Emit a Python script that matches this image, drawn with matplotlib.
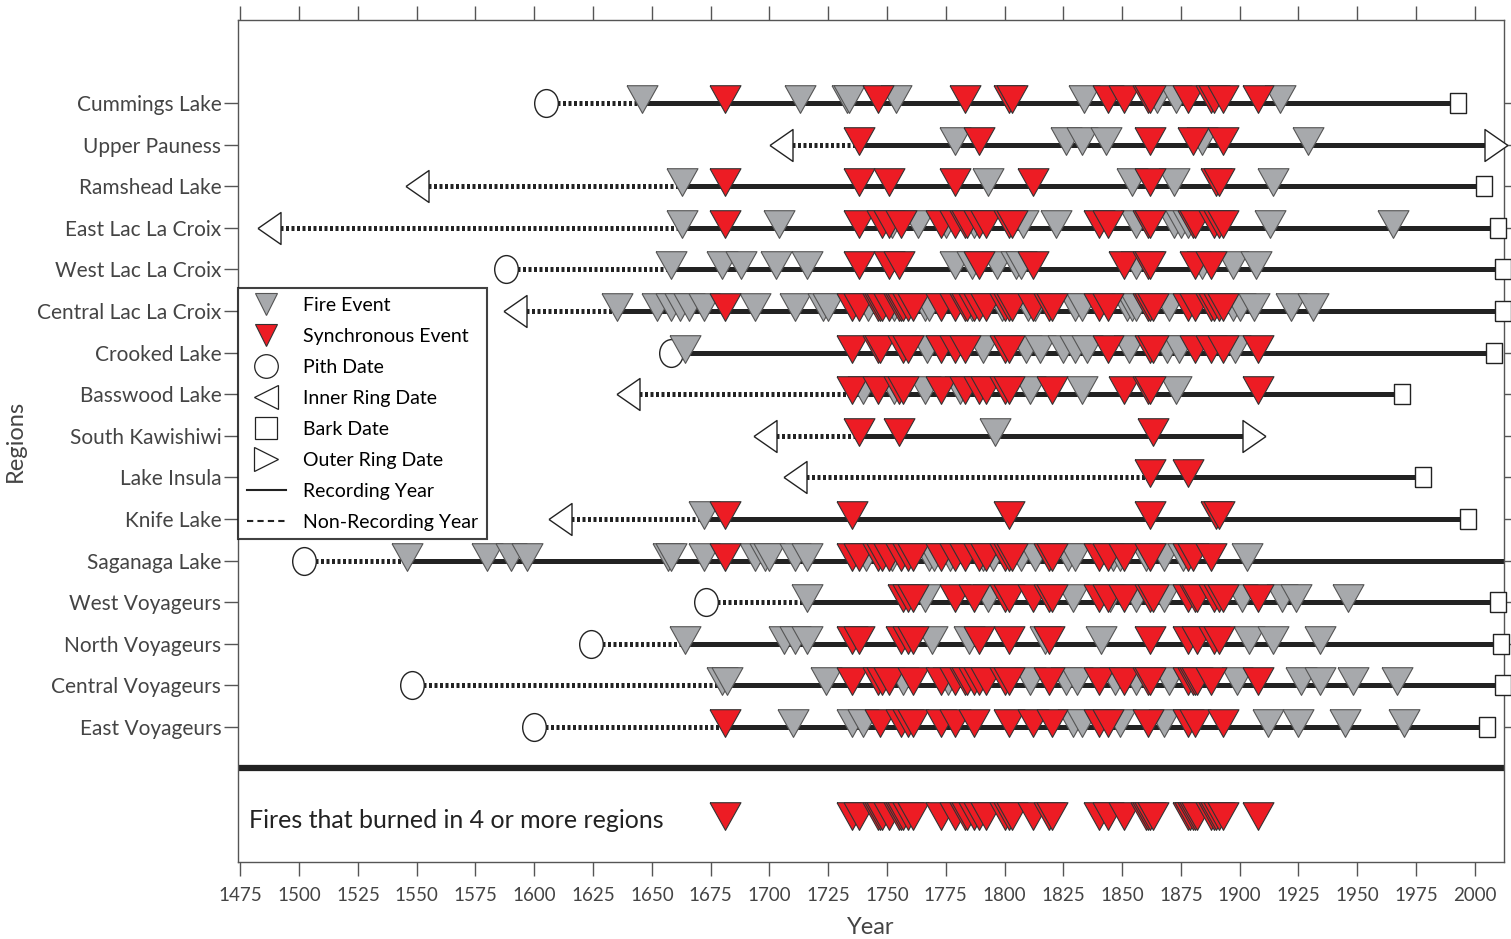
import numpy as np
import matplotlib
matplotlib.use("Agg")
import matplotlib.pyplot as plt
from matplotlib.path import Path
from matplotlib.lines import Line2D

plt.rcParams['font.family'] = ['Lato', 'DejaVu Sans']

# rows, top to bottom
regions = ["Cummings Lake", "Upper Pauness", "Ramshead Lake", "East Lac La Croix",
           "West Lac La Croix", "Central Lac La Croix", "Crooked Lake", "Basswood Lake",
           "South Kawishiwi", "Lake Insula", "Knife Lake", "Saganaga Lake",
           "West Voyageurs", "North Voyageurs", "Central Voyageurs", "East Voyageurs"]

# first date (pith / inner ring), first recording year, last date (bark / outer ring)
start_kind = ["pith", "inner", "inner", "inner", "pith", "inner", "pith", "inner",
              "inner", "inner", "inner", "pith", "pith", "pith", "pith", "pith"]
start_year = [1605, 1705, 1550, 1487, 1588, 1592, 1658, 1640,
              1698, 1711, 1611, 1502, 1673, 1624, 1548, 1600]
rec_year = [1646, 1738, 1663, 1663, 1658, 1635, 1664, 1735,
            1738, 1862, 1672, 1546, 1716, 1664, 1680, 1681]
end_kind = ["bark", "outer", "bark", "bark", "bark", "bark", "bark", "bark",
            "outer", "bark", "bark", None, "bark", "bark", "bark", "bark"]
end_year = [1993, 2009, 2004, 2010, 2012, 2012, 2008, 1969,
            1906, 1978, 1997, 2013, 2010, 2011, 2012, 2005]

fire_years = [
    [1646, 1713, 1733, 1734, 1754, 1834, 1865, 1873, 1917],
    [1779, 1826, 1833, 1843, 1884, 1929],
    [1663, 1793, 1854, 1872, 1914],
    [1663, 1704, 1752, 1763, 1775, 1787, 1808, 1822, 1856, 1872, 1875, 1878, 1913, 1965],
    [1658, 1680, 1688, 1703, 1716, 1779, 1786, 1797, 1805, 1807, 1856, 1884, 1897, 1907],
    [1635, 1652, 1658, 1662, 1666, 1672, 1694, 1711, 1723, 1725, 1742, 1753, 1766, 1768,
     1786, 1799, 1810, 1813, 1830, 1833, 1852, 1854, 1856, 1870, 1897, 1900, 1906, 1922, 1931],
    [1664, 1767, 1791, 1809, 1815, 1825, 1830, 1835, 1853, 1869, 1874, 1898],
    [1740, 1753, 1766, 1781, 1811, 1833, 1873],
    [1796],
    [],
    [1672],
    [1546, 1580, 1590, 1597, 1657, 1658, 1672, 1694, 1698, 1700, 1711, 1716, 1741, 1752,
     1768, 1770, 1777, 1791, 1795, 1807, 1813, 1827, 1830, 1846, 1849, 1860, 1868, 1876, 1903],
    [1716, 1766, 1793, 1829, 1845, 1856, 1868, 1901, 1918, 1924, 1946],
    [1664, 1706, 1711, 1716, 1769, 1785, 1817, 1841, 1904, 1914, 1934],
    [1680, 1682, 1724, 1757, 1776, 1811, 1826, 1831, 1847, 1856, 1870, 1899, 1926, 1934, 1948, 1967],
    [1710, 1735, 1740, 1829, 1833, 1849, 1868, 1912, 1925, 1945, 1970],
]

sync_years = [
    [1681, 1746, 1783, 1802, 1803, 1844, 1851, 1861, 1862, 1878, 1888, 1889, 1893, 1908],
    [1738, 1789, 1862, 1880, 1893],
    [1681, 1738, 1751, 1779, 1812, 1862, 1890, 1891],
    [1681, 1738, 1748, 1751, 1756, 1773, 1779, 1783, 1784, 1789, 1792, 1802, 1803, 1840,
     1844, 1861, 1862, 1880, 1881, 1889, 1891, 1893],
    [1738, 1751, 1755, 1789, 1812, 1851, 1861, 1862, 1881, 1888],
    [1681, 1735, 1738, 1746, 1747, 1748, 1751, 1755, 1756, 1757, 1759, 1761, 1773, 1779,
     1783, 1784, 1787, 1789, 1792, 1800, 1802, 1803, 1812, 1819, 1820, 1840, 1844, 1861,
     1862, 1863, 1878, 1881, 1888, 1889, 1891, 1893],
    [1735, 1746, 1747, 1757, 1759, 1773, 1779, 1783, 1800, 1802, 1844, 1862, 1863, 1881,
     1888, 1893, 1908],
    [1735, 1746, 1755, 1757, 1773, 1783, 1789, 1792, 1800, 1802, 1820, 1851, 1861, 1862, 1908],
    [1738, 1755, 1863],
    [1862, 1878],
    [1681, 1735, 1802, 1862, 1890, 1891],
    [1681, 1735, 1738, 1746, 1748, 1751, 1756, 1759, 1761, 1773, 1779, 1783, 1789, 1792,
     1800, 1802, 1803, 1819, 1820, 1840, 1844, 1851, 1862, 1878, 1880, 1888],
    [1757, 1759, 1761, 1779, 1787, 1800, 1802, 1812, 1819, 1820, 1840, 1844, 1851, 1862,
     1863, 1878, 1881, 1882, 1889, 1891, 1893, 1908],
    [1735, 1738, 1756, 1759, 1761, 1789, 1802, 1819, 1862, 1878, 1882, 1889, 1891],
    [1735, 1746, 1748, 1751, 1761, 1773, 1779, 1783, 1784, 1787, 1789, 1792, 1800, 1802,
     1819, 1840, 1851, 1861, 1862, 1878, 1880, 1881, 1882, 1888, 1908],
    [1681, 1747, 1756, 1759, 1761, 1773, 1779, 1787, 1802, 1812, 1820, 1840, 1844, 1861,
     1878, 1881, 1893],
]

# fires that burned in 4 or more regions
composite_years = [1681, 1735, 1738, 1746, 1747, 1748, 1751, 1755, 1756, 1757, 1759, 1761,
                   1773, 1779, 1783, 1784, 1787, 1789, 1792, 1800, 1802, 1803, 1812, 1819,
                   1820, 1840, 1844, 1851, 1860, 1861, 1862, 1863, 1878, 1879, 1880, 1881,
                   1882, 1888, 1889, 1890, 1891, 1893, 1908]

year_ticks = list(range(1475, 2001, 25))

GRAY = "#a7a9ac"
RED = "#ed1c24"
TXT = "#444444"

# marker shapes
tri = Path([(-0.871, 1.0), (0.871, 1.0), (0.0, -0.556), (-0.871, 1.0)])
left_tri = Path([(-0.72, 0.0), (0.72, 1.0), (0.72, -1.0), (-0.72, 0.0)])
right_tri = Path([(0.72, 0.0), (-0.72, 1.0), (-0.72, -1.0), (0.72, 0.0)])
rect = Path([(-0.76, -1), (0.76, -1), (0.76, 1), (-0.76, 1), (-0.76, -1)])
circ = Path.unit_circle()
ellipse = Path(circ.vertices * np.array([0.85, 1.0]), circ.codes)

start_marker = {"pith": (ellipse, 20), "inner": (left_tri, 23)}
end_marker = {"bark": (rect, 15), "outer": (right_tri, 23)}


def main():
    fig = plt.figure(figsize=(15.11, 9.39), dpi=100)
    ax = fig.add_axes([0.1575, 0.082, 0.838, 0.8967])

    n = len(regions)
    ys = np.arange(n, 0, -1)

    for i in range(n):
        y = ys[i]
        ax.plot([start_year[i], rec_year[i]], [y, y], color="#222222", lw=3.6,
                linestyle=(0, (0.6, 0.5)), dash_capstyle="butt", zorder=2)
        ax.plot([rec_year[i], end_year[i]], [y, y], color="#222222", lw=3.6,
                solid_capstyle="butt", zorder=2)
        m, s = start_marker[start_kind[i]]
        ax.plot([start_year[i]], [y], marker=m, ms=s, mfc="white", mec="#222222",
                mew=1.0, ls="none", zorder=3)
        if end_kind[i] is not None:
            m, s = end_marker[end_kind[i]]
            ax.plot([end_year[i]], [y], marker=m, ms=s, mfc="white", mec="#222222",
                    mew=1.0, ls="none", zorder=3, clip_on=False)
        ax.plot(fire_years[i], [y] * len(fire_years[i]), marker=tri, ms=25.6, mfc=GRAY,
                mec="#555555", mew=0.8, ls="none", zorder=4)
        ax.plot(sync_years[i], [y] * len(sync_years[i]), marker=tri, ms=25.6, mfc=RED,
                mec="#333333", mew=0.8, ls="none", zorder=5)

    # separator and composite row
    ax.axhline(0.0, color="#222222", lw=4.5, zorder=2)
    yc = -1.24
    ax.plot(composite_years, [yc] * len(composite_years), marker=tri, ms=25.6, mfc=RED,
            mec="#333333", mew=0.8, ls="none", zorder=5)
    ax.text(1478.5, yc - 0.02, "Fires that burned in 4 or more regions", fontsize=18,
            color="#222222", va="center", ha="left")

    ax.set_xlim(1474, 2012.5)
    ax.set_ylim(-2.25, 18.0)

    ax.set_xticks(year_ticks)
    ax.set_xticklabels([str(t) for t in year_ticks], fontsize=13.5, color=TXT)
    ax.set_yticks(ys)
    ax.set_yticklabels(regions, fontsize=15, color=TXT)
    ax.tick_params(axis="x", which="both", direction="out", length=10, width=1,
                   color="#555555", top=True, bottom=True, labeltop=False, pad=8)
    ax.tick_params(axis="y", direction="out", length=10, width=1, color="#555555",
                   left=True, right=True, labelright=False, pad=2)
    for sp in ax.spines.values():
        sp.set_color("#555555")
        sp.set_linewidth(1.0)

    ax.set_xlabel("Year", fontsize=17, color=TXT, labelpad=9)
    ax.set_ylabel("Regions", fontsize=17, color=TXT, labelpad=8)

    handles = [
        Line2D([], [], marker="v", ms=16, mfc=GRAY, mec="#555555", mew=0.8, ls="none"),
        Line2D([], [], marker="v", ms=16, mfc=RED, mec="#333333", mew=0.8, ls="none"),
        Line2D([], [], marker="o", ms=17, mfc="white", mec="#222222", mew=0.9, ls="none"),
        Line2D([], [], marker="<", ms=17, mfc="white", mec="#222222", mew=0.9, ls="none"),
        Line2D([], [], marker="s", ms=16, mfc="white", mec="#222222", mew=0.9, ls="none"),
        Line2D([], [], marker=">", ms=17, mfc="white", mec="#222222", mew=0.9, ls="none"),
        Line2D([], [], color="#222222", lw=1.5),
        Line2D([], [], color="#222222", lw=1.5, ls=(0, (3, 2))),
    ]
    labels = ["Fire Event", "Synchronous Event", "Pith Date", "Inner Ring Date",
              "Bark Date", "Outer Ring Date", "Recording Year", "Non-Recording Year"]
    leg = ax.legend(handles, labels, loc="upper left", bbox_to_anchor=(0.0, 0.682),
                    borderaxespad=0.0, fontsize=14, frameon=True, fancybox=False,
                    handlelength=2.0, handletextpad=0.9, labelspacing=0.72,
                    borderpad=0.45)
    leg.get_frame().set_edgecolor("#111111")
    leg.get_frame().set_linewidth(1.5)
    leg.set_zorder(10)

    fig.savefig("out.png", dpi=100)


if __name__ == "__main__":
    main()
